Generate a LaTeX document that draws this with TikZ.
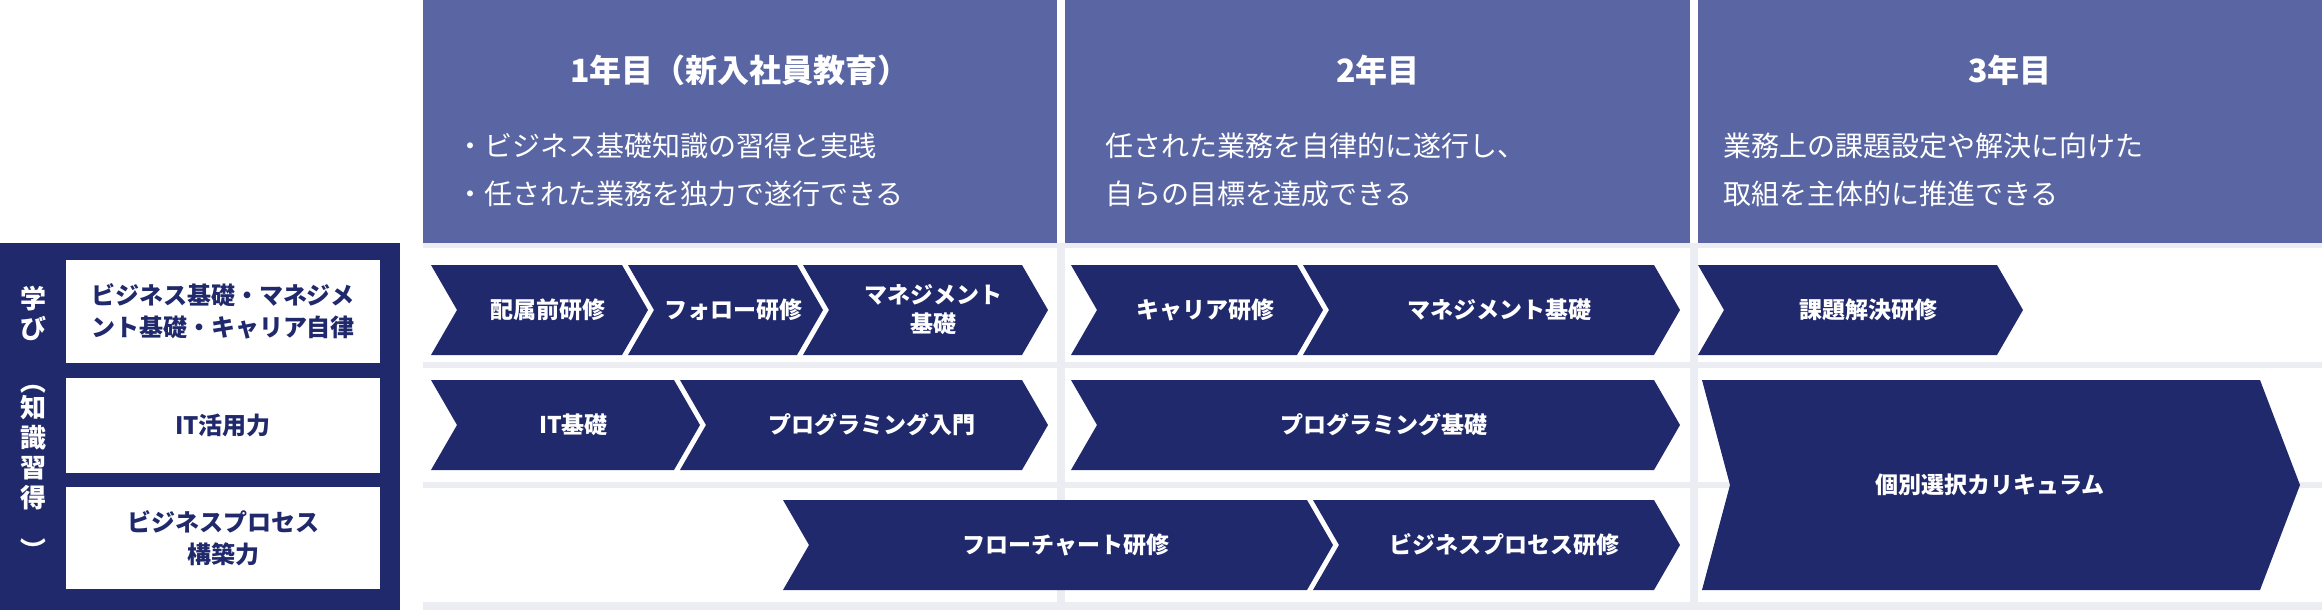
\documentclass[tikz,border=0pt]{standalone}
\usepackage{fontspec}
\setmainfont{Noto Sans CJK JP}
\usepackage{graphicx}
\definecolor{hdr}{HTML}{5A66A3}
\definecolor{navy}{HTML}{20296B}
\definecolor{lgray}{HTML}{ECEDF3}
\newcommand{\chevbox}[6]{%
  \fill[navy] (#1,#3) -- ({#2-26},#3) -- (#2,{(#3+#4)/2}) -- ({#2-26},#4) -- (#1,#4) -- ({#1+26},{(#3+#4)/2}) -- cycle;
  \node[chevtext] (#6) at ({(#1+#2)/2+8},{(#3+#4)/2}) {#5};}
\tikzset{
  chevtext/.style={text=white,font=\fontsize{23}{29}\selectfont\bfseries,align=center,inner sep=0},
  hdrtitle/.style={text=white,font=\fontsize{32}{38}\selectfont\bfseries,inner sep=0},
  hdrline/.style={text=white,font=\fontsize{28}{48}\selectfont,align=left,anchor=west,inner sep=0},
  leftbox/.style={fill=white,text=navy,font=\fontsize{24}{32}\selectfont\bfseries,align=center}
}
\begin{document}
\begin{tikzpicture}[x=1pt,y=-1pt]
\useasboundingbox (0,0) rectangle (2322,610);
% background grid
\fill[lgray] (423,243) rectangle (2322,610);
\fill[white] (423,248) rectangle (1057,362);
\fill[white] (1065,248) rectangle (1690,362);
\fill[white] (1698,248) rectangle (2322,362);
\fill[white] (423,368) rectangle (1057,482);
\fill[white] (1065,368) rectangle (1690,482);
\fill[white] (1698,368) rectangle (2322,482);
\fill[white] (423,488) rectangle (1057,602);
\fill[white] (1065,488) rectangle (1690,602);
\fill[white] (1698,488) rectangle (2322,602);
% headers
\fill[hdr] (423,0) rectangle (1057,243);
\fill[hdr] (1065,0) rectangle (1690,243);
\fill[hdr] (1698,0) rectangle (2322,243);
\node[hdrtitle] (t1) at (740,70) {1年目（新入社員教育）};
\node[hdrtitle] (t2) at (1378,70) {2年目};
\node[hdrtitle] (t3) at (2010,70) {3年目};
\node[hdrline] (d1) at (456,170) {・ビジネス基礎知識の習得と実践\\・任された業務を独力で遂行できる};
\node[hdrline] (d2) at (1105,170) {任された業務を自律的に遂行し、\\自らの目標を達成できる};
\node[hdrline] (d3) at (1723,170) {業務上の課題設定や解決に向けた\\取組を主体的に推進できる};
% left panel
\fill[navy] (0,243) rectangle (400,610);
\node[leftbox,minimum width=314,minimum height=103] (l1) at (223,311.5) {ビジネス基礎・マネジメ\\ント基礎・キャリア自律};
\node[leftbox,minimum width=314,minimum height=95] (l2) at (223,425.5) {IT活用力};
\node[leftbox,minimum width=314,minimum height=102] (l3) at (223,538) {ビジネスプロセス\\構築力};
\node[text=white,font=\fontsize{26}{30}\selectfont\bfseries,align=center,inner sep=0] (lv) at (33,425)
  {学\\び\\\rotatebox{-90}{（}\\知\\識\\習\\得\\\rotatebox{-90}{）}};
% row 1
\chevbox{431}{648}{265}{355}{配属前研修}{c11}
\chevbox{628}{823}{265}{355}{フォロー研修}{c12}
\chevbox{803}{1048}{265}{355}{マネジメント\\基礎}{c13}
\chevbox{1071}{1323}{265}{355}{キャリア研修}{c21}
\chevbox{1303}{1680}{265}{355}{マネジメント基礎}{c22}
\chevbox{1698}{2023}{265}{355}{課題解決研修}{c31}
% row 2
\chevbox{431}{700}{380}{470}{IT基礎}{c14}
\chevbox{680}{1048}{380}{470}{プログラミング入門}{c15}
\chevbox{1071}{1680}{380}{470}{プログラミング基礎}{c23}
\fill[navy] (1702,380) -- (2260,380) -- (2300,485) -- (2260,590) -- (1702,590) -- (1730,485) -- cycle;
\node[chevtext] (c32) at (1990,485) {個別選択カリキュラム};
% row 3
\chevbox{783}{1333}{500}{590}{フローチャート研修}{c16}
\chevbox{1313}{1680}{500}{590}{ビジネスプロセス研修}{c24}
\end{tikzpicture}
\end{document}
